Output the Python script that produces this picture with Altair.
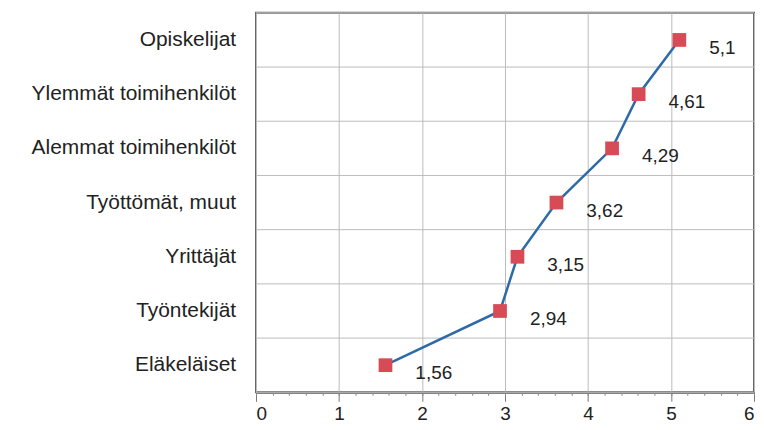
import altair as alt
import pandas as pd

categories = [
    "Opiskelijat",
    "Ylemmät toimihenkilöt",
    "Alemmat toimihenkilöt",
    "Työttömät, muut",
    "Yrittäjät",
    "Työntekijät",
    "Eläkeläiset",
]
values = [5.1, 4.61, 4.29, 3.62, 3.15, 2.94, 1.56]
major_ticks = [0, 1, 2, 3, 4, 5, 6]
minor_ticks = [round(i * 0.2, 1) for i in range(31)]

n = len(categories)
df = pd.DataFrame({
    "cat": categories,
    "idx": list(range(n)),
    "val": values,
    "label": [str(v).replace(".", ",") for v in values],
})
band_edges = [i - 0.5 for i in range(n + 1)]
edges_df = pd.DataFrame({"edge": band_edges})

FONT = "Liberation Sans"
x_scale = alt.Scale(domain=[0, 6], nice=False, zero=True)
y_scale = alt.Scale(domain=[-0.5, n - 0.5], reverse=True, nice=False, zero=False)

x_main = alt.X(
    "val:Q",
    scale=x_scale,
    axis=alt.Axis(
        values=major_ticks,
        orient="bottom",
        title=None,
        grid=True,
        format="d",
        labelFont=FONT,
        labelFontSize=19,
        labelColor="#222222",
        labelPadding=3,
        tickSize=9,
        tickColor="#777777",
        gridColor="#bbbbbb",
        domainColor="#666666",
        domainWidth=2,
    ),
)
x_minor = alt.X(
    "val:Q",
    scale=x_scale,
    axis=alt.Axis(
        values=minor_ticks,
        orient="bottom",
        title=None,
        grid=False,
        labels=False,
        domain=False,
        tickSize=3,
        tickColor="#888888",
    ),
)
y_enc = alt.Y("idx:Q", scale=y_scale, axis=None)

hgrid = alt.Chart(edges_df).mark_rule(color="#bbbbbb", strokeWidth=1).encode(
    y=alt.Y("edge:Q", scale=y_scale, axis=None)
)

base = alt.Chart(df)
line = base.mark_line(color="#2f6aa8", strokeWidth=2.5).encode(
    x=x_main, y=y_enc, order="idx:Q"
)
points = base.mark_square(color="#d64b55", size=190, opacity=1).encode(
    x=x_minor, y=y_enc
)
labels = base.mark_text(
    align="left", baseline="middle", dx=30, dy=8,
    font=FONT, fontSize=19, color="#222222"
).encode(x=alt.X("val:Q", scale=x_scale, axis=None), y=y_enc, text="label:N")
cat_labels = base.mark_text(
    align="right", baseline="middle", dx=-20,
    font=FONT, fontSize=21, color="#222222"
).encode(
    x=alt.XDatum(0, scale=x_scale, axis=None),
    y=y_enc,
    text="cat:N",
)

chart = (hgrid + line + points + labels + cat_labels).resolve_axis(
    x="independent"
).properties(
    width=500,
    height=381,
    autosize=alt.AutoSizeParams(type="none"),
    padding={"left": 249, "top": 4, "right": 2, "bottom": 35},
    background="white",
).configure_view(stroke="#666666", strokeWidth=2)

chart.save("out.html", embed_options={"renderer": "svg", "actions": False})
